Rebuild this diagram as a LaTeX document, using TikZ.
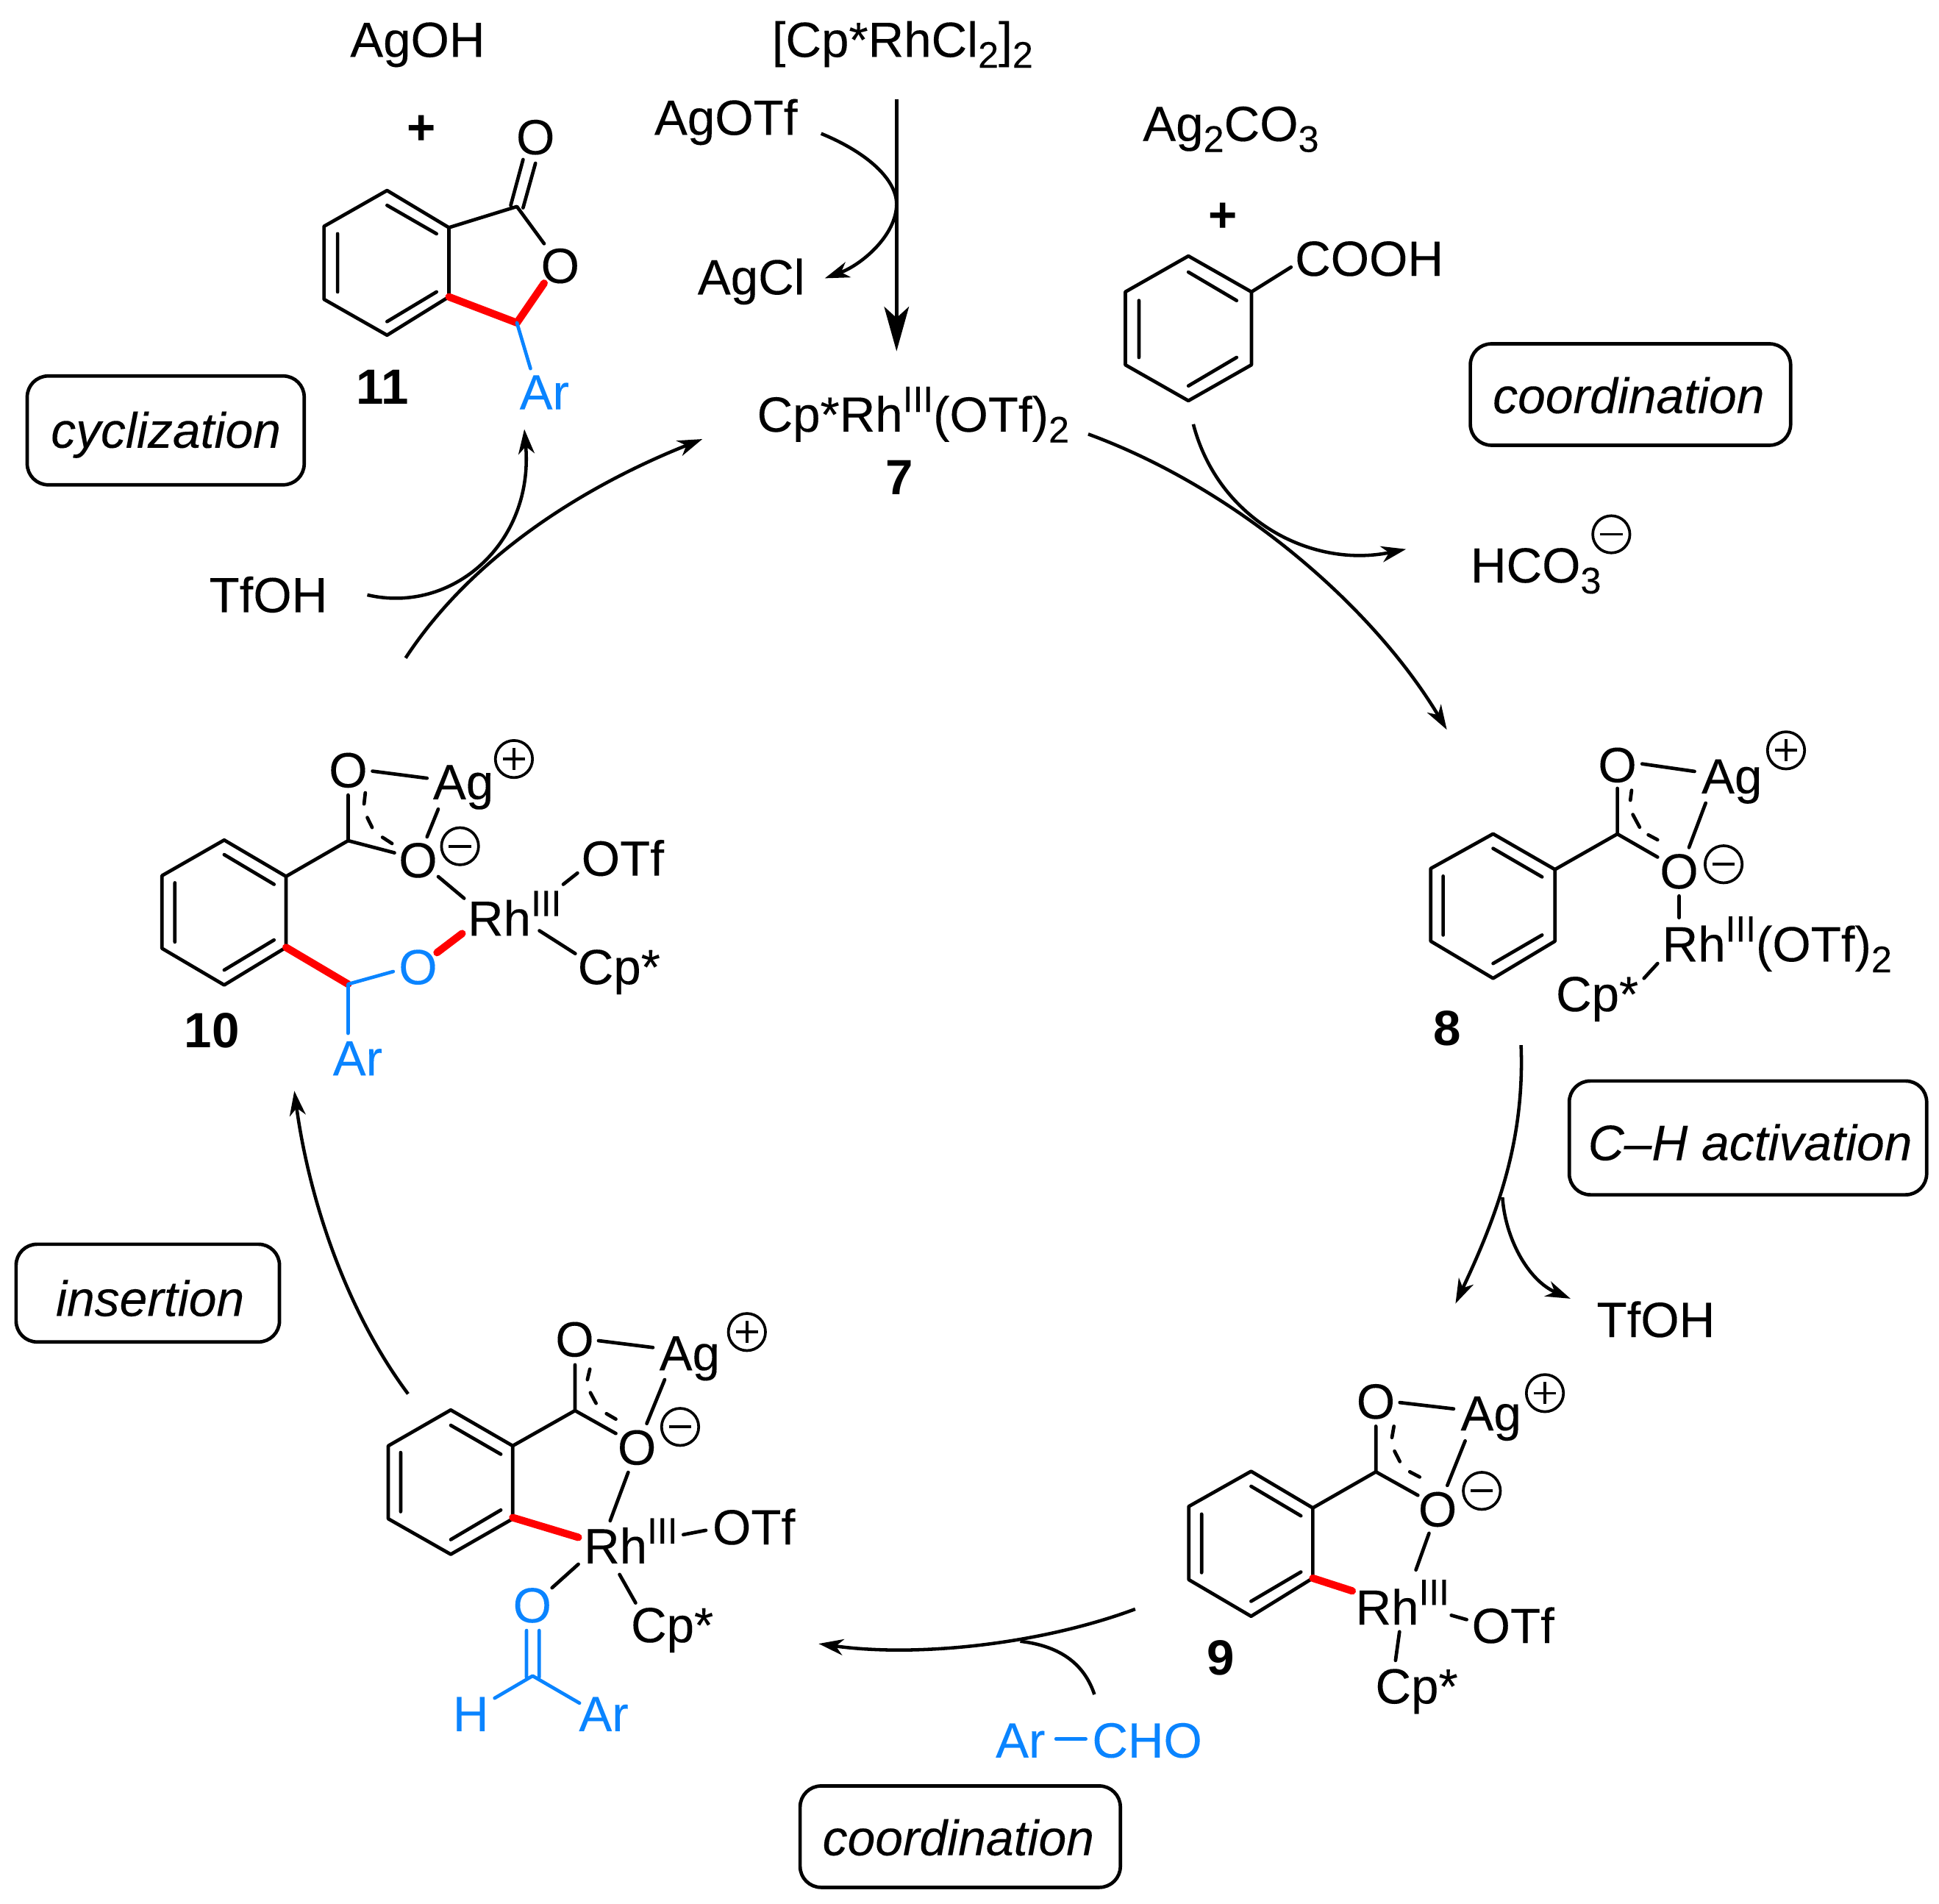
\documentclass[tikz,border=0pt]{standalone}
\usepackage{fontspec}
\setmainfont{Liberation Sans}[UprightFeatures={FakeBold=0.12},ItalicFeatures={FakeBold=0.12}]
\usetikzlibrary{arrows.meta}
\definecolor{chemblue}{RGB}{10,132,255}
\definecolor{chemred}{RGB}{255,0,0}
\newcommand\chemsup[1]{\raisebox{0.40em}{\fontsize{29.5}{29.5}\selectfont #1}}
\newcommand\chemsub[1]{\raisebox{-0.22em}{\fontsize{30}{30}\selectfont #1}}
\tikzset{
  bond/.style={line width=2.8pt,line cap=round,line join=round},
  redbond/.style={line width=6pt,line cap=round,line join=round,draw=chemred},
  bluebond/.style={line width=2.8pt,line cap=round,line join=round,draw=chemblue},
  lab/.style={inner sep=0pt,anchor=base west,font=\fontsize{40}{40}\selectfont},
  atom/.style={inner sep=0pt,anchor=center,font=\fontsize{40}{40}\selectfont},
  sign/.style={inner sep=0pt,anchor=center,font=\fontsize{40}{40}\selectfont\bfseries},
  bold/.style={lab,font=\fontsize{40}{40}\selectfont\bfseries},
  tag/.style={lab,font=\fontsize{40.3}{40.3}\selectfont\itshape},
  blue/.style={text=chemblue},
  stepbox/.style={draw,line width=2.8pt,rounded corners=17pt},
  arr/.style={line width=2.7pt,-{Stealth[length=20pt,width=13pt,inset=6pt]}},
  line/.style={line width=2.7pt},
  bigarr/.style={line width=2.7pt,-{Stealth[length=36pt,width=20pt,inset=9pt]}},
  charge/.style={line width=2.2pt}
}
\newcommand\chplus[2]{\draw[charge] (#1,#2) circle (15); \draw[charge] (#1-9,#2) -- (#1+9,#2) (#1,#2-9) -- (#1,#2+9);}
\newcommand\chminus[2]{\draw[charge] (#1,#2) circle (15); \draw[charge] (#1-9,#2) -- (#1+9,#2);}
\begin{document}
\begin{tikzpicture}[x=1pt,y=-1pt]
\useasboundingbox (0,0) rectangle (1568,1539.4);

% --- top reagents
\node[lab] (agoh) at (283,46) {AgOH};
\node[sign] (plusa) at (341,105) {+};
\node[lab] (dimer) at (624,46) {[Cp*RhCl\chemsub{2}]\chemsub{2}};
\node[lab] (agotf) at (529,109) {AgOTf};
\node[lab] (agcl) at (564,238) {AgCl};
\node[lab] (ag2co3) at (924,114) {Ag\chemsub{2}CO\chemsub{3}};
\node[sign] (plusb) at (989,176) {+};
\node[lab] (cat) at (612,349) {Cp*Rh\chemsup{III}(OTf)\chemsub{2}};
\node[bold] (n7) at (716,400) {7};
\node[lab] (hco) at (1189,471) {HCO\chemsub{3}};
\chminus{1303}{432}
\node[lab] (tfoha) at (169,495) {TfOH};
\node[lab] (tfohb) at (1291,1081) {TfOH};

% --- step boxes
\draw[stepbox] (1189,278) rectangle (1448,360);
\node[tag] (t1) at (1207,334) {coordination};
\draw[stepbox] (22,304) rectangle (246,392);
\node[tag] (t2) at (41,362) {cyclization};
\draw[stepbox] (1269,874) rectangle (1558,966);
\node[tag] (t3) at (1284,938) {C–H activation};
\draw[stepbox] (13,1006) rectangle (226,1085);
\node[tag] (t4) at (45,1064) {insertion};
\draw[stepbox] (647,1444) rectangle (906,1526);
\node[tag] (t5) at (665,1500) {coordination};

% --- compound 11
\draw[bond] (313,154) -- (363,184) -- (363,240) -- (313,271) -- (262,242) -- (262,183) -- cycle;
\draw[bond] (313,166) -- (353,189) (273,189) -- (273,236) (313,260) -- (353,236);
\draw[bond] (363,184) -- (418,167) -- (440,197) (413,166) -- (423,129) (423,168) -- (433,132);
\draw[redbond] (363,240) -- (418,261) -- (440,229);
\draw[bluebond] (418,261) -- (429,298);
\node[atom] (o11a) at (433,111) {O};
\node[atom] (o11b) at (453,215) {O};
\node[lab,blue] (ar11) at (420,331) {Ar};
\node[bold] (n11) at (288,327) {11};

% --- benzoic acid
\draw[bond] (961,207) -- (1012,236) -- (1012,295) -- (961,324) -- (910,295) -- (910,236) -- cycle;
\draw[bond] (961,220) -- (1000,243) (921,243) -- (921,289) (961,312) -- (1000,289);
\draw[bond] (1012,236) -- (1044,216);
\node[lab] (cooh) at (1047,223) {COOH};

% --- compound 8
\draw[bond] (1207.4,674.2) -- (1257.4,703) -- (1257.4,761) -- (1207.4,791) -- (1157,761) -- (1157,702.2) -- cycle;
\draw[bond] (1207.4,686) -- (1247,709) (1167,708.4) -- (1167,756) (1207.4,779) -- (1247,756);
\draw[bond] (1257.4,703) -- (1307.9,674.3) -- (1307.9,637.4) (1307.9,674.3) -- (1340.4,693);
\draw[bond] (1319.4,639) -- (1318.4,647) (1320.4,658.6) -- (1325.9,668.8) (1332.9,675) -- (1340.4,679);
\draw[bond] (1327.9,617.6) -- (1370.3,623.7) (1379.3,649.3) -- (1365.8,685.2);
\draw[bond] (1357.8,724.4) -- (1357.8,742) (1340.4,779) -- (1329.4,791);
\node[atom] (o8a) at (1307.9,618.6) {O};
\node[lab] (ag8) at (1375.8,641.5) {Ag};
\chplus{1444.3}{606.7}
\node[atom] (o8b) at (1357.8,704.6) {O};
\chminus{1393.8}{698.8}
\node[lab] (rh8) at (1344,777.3) {Rh\chemsup{III}(OTf)\chemsub{2}};
\node[lab] (cp8) at (1258,817.6) {Cp*};
\node[bold] (n8) at (1159,845) {8};

% --- compound 9
\draw[bond] (1011.7,1189.6) -- (1061.6,1219.2) -- (1061.6,1276) -- (1011.7,1306.8) -- (961.3,1277.2) -- (961.3,1218) -- cycle;
\draw[bond] (1011.7,1201.7) -- (1052,1225.6) (971.7,1224.2) -- (971.7,1271.5) (1011.7,1294.7) -- (1052,1271);
\draw[bond] (1061.6,1219.2) -- (1112.6,1190) -- (1112.6,1153.2) (1112.6,1190) -- (1146.6,1209);
\draw[bond] (1127.2,1153.2) -- (1125.6,1162.3) (1127.7,1173.3) -- (1132,1181.7) (1140,1190) -- (1148,1194.2);
\draw[bond] (1132,1134) -- (1175.5,1139.1) (1184.8,1165) -- (1170.4,1201);
\draw[bond] (1155.6,1239.7) -- (1145,1269.3) (1173.6,1306) -- (1186,1309.5) (1131.7,1319.3) -- (1128.5,1342.5);
\draw[redbond] (1061.6,1276) -- (1093.5,1286.3);
\node[atom] (o9a) at (1112.5,1133.2) {O};
\node[lab] (ag9) at (1181,1156.6) {Ag};
\chplus{1249.3}{1126.4}
\node[atom] (o9b) at (1162.5,1220.4) {O};
\chminus{1198.3}{1205.4}
\node[lab] (rh9) at (1096,1313.6) {Rh\chemsup{III}};
\node[lab] (otf9) at (1190,1328.4) {OTf};
\node[lab] (cp9) at (1112,1377.3) {Cp*};
\node[bold] (n9) at (976,1354) {9};

% --- aldehyde complex
\draw[bond] (364.5,1140) -- (414.6,1169) -- (414.6,1228) -- (364.5,1256.7) -- (314,1228) -- (314,1169) -- cycle;
\draw[bond] (364.5,1152.4) -- (405,1175.8) (324,1174.4) -- (324,1222.2) (364.5,1244.8) -- (405,1220.9);
\draw[bond] (414.6,1169) -- (465,1140.5) -- (465,1103.5) (465,1140.5) -- (498,1159);
\draw[bond] (477,1107) -- (475,1115.5) (477.4,1126) -- (482,1134.6) (490.4,1143) -- (498,1147.4);
\draw[bond] (484,1084) -- (528,1089.5) (537.5,1115.5) -- (523,1151);
\draw[bond] (508,1190.4) -- (493.4,1229.6) (552.6,1240.8) -- (570.8,1237.3) (467.7,1264.7) -- (446.4,1283.8) (501,1273) -- (514,1296);
\draw[redbond] (414.6,1227) -- (467.7,1243);
\draw[bluebond] (425.8,1318.3) -- (425.8,1356.2) (436,1318.3) -- (436,1356.2) (400,1373) -- (430.7,1355) -- (468.6,1377);
\node[atom] (oxa) at (464.7,1083) {O};
\node[lab] (agx) at (533,1108) {Ag};
\chplus{604}{1077}
\node[atom] (oxb) at (515,1170.4) {O};
\chminus{550}{1153.7}
\node[lab] (rhx) at (472,1264) {Rh\chemsup{III}};
\node[lab] (otfx) at (576,1248.7) {OTf};
\node[lab] (cpx) at (510,1327.8) {Cp*};
\node[atom,blue] (oxc) at (430.4,1298) {O};
\node[lab,blue] (hx) at (366,1399.7) {H};
\node[lab,blue] (arx) at (468,1399.7) {Ar};

% --- compound 10
\draw[bond] (181.3,679.2) -- (231.3,708.6) -- (231.3,766) -- (181.3,796.4) -- (131,766.8) -- (131,708) -- cycle;
\draw[bond] (181.3,691) -- (221.6,715) (141.4,713.8) -- (141.4,761.6) (181.3,784.3) -- (221.6,760);
\draw[bond] (231.3,708.6) -- (281.5,679.7) -- (281.5,642.8) (281.5,679.7) -- (319,689.5);
\draw[bond] (295.4,641) -- (294.4,650) (297,661) -- (300.9,669) (309.3,677) -- (317,682);
\draw[bond] (301.2,623.5) -- (345.3,629.2) (354.4,654.2) -- (345.3,676.7);
\draw[bond] (354.4,708.8) -- (375.3,726.3) (455.5,715) -- (467,705.9) (436.2,752.5) -- (465.2,771);
\draw[redbond] (231.3,766) -- (281.5,795.7);
\draw[redbond] (353.4,770.2) -- (373.7,754.8);
\draw[bluebond] (318,785.5) -- (281.5,795.7) -- (281.5,835.5);
\node[atom] (oza) at (281.5,622.8) {O};
\node[lab] (agz) at (350,646.2) {Ag};
\chplus{415.6}{613.7}
\node[atom] (ozb) at (338,695.6) {O};
\chminus{372}{684.2}
\node[lab] (rhz) at (378,756.6) {Rh\chemsup{III}};
\node[lab] (otfz) at (470,708) {OTf};
\node[lab] (cpz) at (467,795.7) {Cp*};
\node[atom,blue] (ozc) at (338,782) {O};
\node[lab,blue] (arz) at (269,869.5) {Ar};
\node[bold] (n10) at (149,847) {10};

% --- aldehyde reagent
\node[lab,blue] (ara) at (805,1421) {Ar};
\node[lab,blue] (cho) at (883,1421) {CHO};
\coordinate (aldl) at (854,1406);
\coordinate (aldr) at (878,1406);
\draw[bluebond] (aldl) -- (aldr);

% --- connector end points
\coordinate (a1) at (725,80);     \coordinate (a2) at (725,284);
\coordinate (b1) at (664,108);    \coordinate (b2) at (725,165);   \coordinate (b3) at (667,225);
\coordinate (c1) at (328,532);    \coordinate (c2) at (568,355);
\coordinate (d1) at (297,481);    \coordinate (d2) at (424,347);
\coordinate (e1) at (880,351);    \coordinate (e2) at (1170,590);
\coordinate (f1) at (965,343);    \coordinate (f2) at (1137,444);
\coordinate (g1) at (1230,845);   \coordinate (g2) at (1177,1054);
\coordinate (h1) at (1215,968);   \coordinate (h2) at (1270,1050);
\coordinate (i1) at (918,1301);   \coordinate (i2) at (662,1329);
\coordinate (j1) at (885,1370);   \coordinate (j2) at (825,1327);
\coordinate (k1) at (330,1127);   \coordinate (k2) at (238,882);

% --- arrows
\draw[bigarr] (a1) -- (a2);
\draw[arr] (b1) .. controls (703,124) and (725,146) .. (b2) .. controls (725,190) and (697,214) .. (b3);
\draw[arr] (c1) .. controls (385,445) and (480,390) .. (c2);
\draw[arr] (d1) .. controls (365,497) and (432,440) .. (d2);
\draw[arr] (e1) .. controls (1000,395) and (1110,490) .. (e2);
\draw[arr] (f1) .. controls (985,420) and (1060,460) .. (f2);
\draw[arr] (g1) .. controls (1233,920) and (1212,980) .. (g2);
\draw[arr] (h1) .. controls (1217,1000) and (1235,1035) .. (h2);
\draw[arr] (i1) .. controls (840,1330) and (740,1340) .. (i2);
\draw[line] (j1) .. controls (875,1340) and (850,1330) .. (j2);
\draw[arr] (k1) .. controls (280,1060) and (250,970) .. (k2);
\end{tikzpicture}
\end{document}
